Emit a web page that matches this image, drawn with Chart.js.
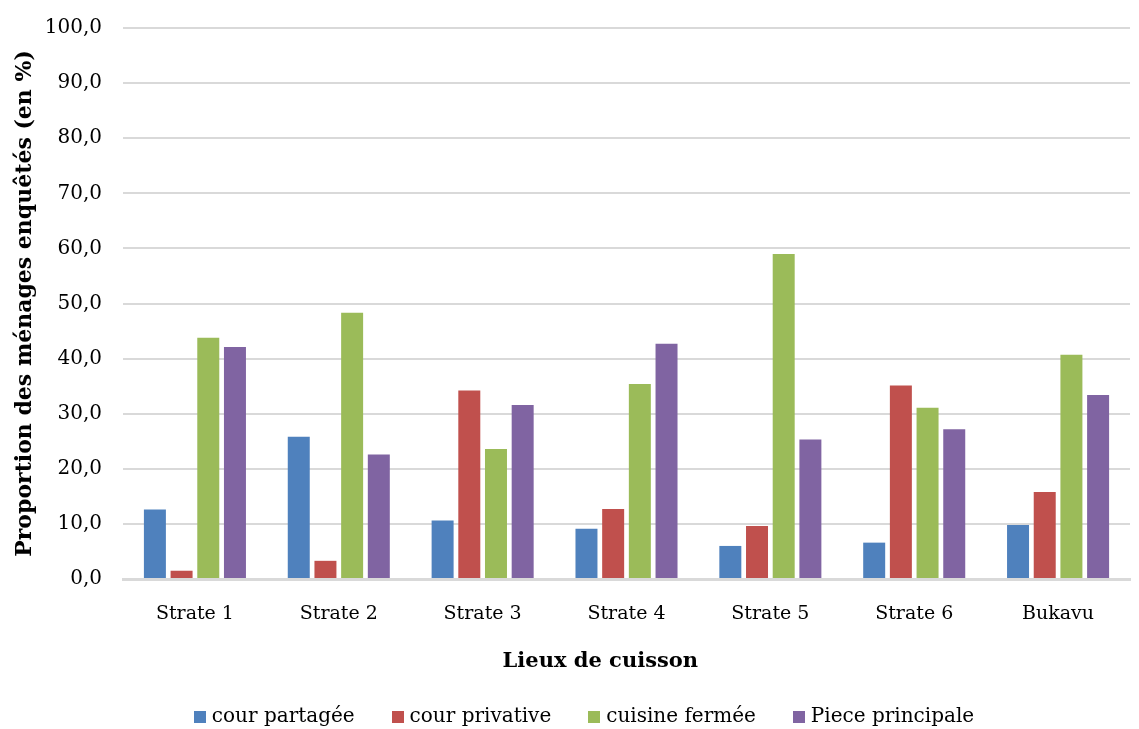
<!DOCTYPE html>
<html>
<head>
<meta charset="utf-8">
<script src="https://cdn.jsdelivr.net/npm/chart.js@4"></script>
<style>
  html, body { margin: 0; padding: 0; background: #fff; }
  #wrap { width: 1139px; height: 729px; }
</style>
</head>
<body>
<div id="wrap"><canvas id="c" width="1139" height="729"></canvas></div>
<script>
// Lieux de cuisson par strate (en % des ménages enquêtés)
const categories = ['Strate 1', 'Strate 2', 'Strate 3', 'Strate 4', 'Strate 5', 'Strate 6', 'Bukavu'];
const seriesNames = ['cour partagée', 'cour privative', 'cuisine fermée', 'Piece principale'];
const courPartagee    = [12.6, 25.8, 10.6, 9.1, 6.0, 6.6, 9.8];
const courPrivative   = [1.5, 3.3, 34.2, 12.7, 9.6, 35.1, 15.8];
const cuisineFermee   = [43.8, 48.3, 23.6, 35.4, 59.0, 31.1, 40.7];
const piecePrincipale = [42.1, 22.6, 31.6, 42.7, 25.3, 27.2, 33.4];
const colors = ['#4F81BD', '#C0504D', '#9BBB59', '#8064A2'];
const xTitle = 'Lieux de cuisson';
const yTitle = 'Proportion des ménages enquêtés (en %)';

const FONT = 'DejaVu Serif';
Chart.defaults.font.family = FONT;
Chart.defaults.color = '#000';

const seriesValues = [courPartagee, courPrivative, cuisineFermee, piecePrincipale];

// x-axis title, set a little left of the plot centre under the tick labels
const xTitlePlugin = {
  id: 'xTitle',
  afterDraw(chart) {
    const ctx = chart.ctx;
    const area = chart.chartArea;
    ctx.save();
    ctx.font = "bold 21px '" + FONT + "'";
    ctx.fillStyle = '#000';
    ctx.textAlign = 'center';
    ctx.textBaseline = 'middle';
    ctx.fillText(xTitle, area.left + (area.right - area.left) * 0.474, chart.scales.x.bottom - 11);
    ctx.restore();
  }
};

// Legend row at the bottom: square swatch + series name, built from the datasets
const bottomLegend = {
  id: 'bottomLegend',
  afterDraw(chart) {
    const ctx = chart.ctx;
    const box = 12, gapText = 6, gapItem = 37, centerX = 584, y = 717;
    ctx.save();
    ctx.font = "20px '" + FONT + "'";
    ctx.textBaseline = 'middle';
    ctx.textAlign = 'left';
    const items = chart.data.datasets.map(ds => ({
      text: ds.label, color: ds.backgroundColor, w: ctx.measureText(ds.label).width
    }));
    const total = items.reduce((s, it) => s + box + gapText + it.w, 0) + gapItem * (items.length - 1);
    let x = centerX - total / 2;
    items.forEach(it => {
      ctx.fillStyle = it.color;
      ctx.fillRect(Math.round(x), y - 6, box, box);
      ctx.fillStyle = '#000';
      ctx.fillText(it.text, x + box + gapText, y);
      x += box + gapText + it.w + gapItem;
    });
    ctx.restore();
  }
};

new Chart(document.getElementById('c'), {
  type: 'bar',
  data: {
    labels: categories,
    datasets: seriesValues.map((vals, i) => ({
      label: seriesNames[i],
      data: vals,
      backgroundColor: colors[i],
      borderWidth: 0,
      categoryPercentage: 0.742,
      barPercentage: 0.824
    }))
  },
  plugins: [xTitlePlugin, bottomLegend],
  options: {
    responsive: false,
    animation: false,
    devicePixelRatio: 1,
    layout: { padding: { top: 28, right: 9, left: 0, bottom: 56 } },
    plugins: {
      tooltip: { enabled: false },
      legend: { display: false }
    },
    scales: {
      x: {
        grid: { display: false, drawTicks: false },
        border: { display: true, color: '#d9d9d9', width: 3 },
        ticks: { color: '#000', padding: 24, font: { family: FONT, size: 19 } },
        afterFit: (s) => { s.height = 94; }
      },
      y: {
        min: 0,
        max: 100,
        ticks: {
          stepSize: 10,
          color: '#000',
          padding: 21,
          font: { family: FONT, size: 20 },
          callback: (v) => v.toFixed(1).replace('.', ',')
        },
        grid: { color: '#d9d9d9', lineWidth: 2, drawTicks: false },
        border: { display: false },
        title: {
          display: true,
          text: yTitle,
          color: '#000',
          font: { family: FONT, size: 22, weight: 'bold' },
          padding: { top: 12, bottom: 0 }
        },
        afterFit: (s) => { s.width = 123; s.paddingTop = 0; }
      }
    }
  }
});
</script>
</body>
</html>
